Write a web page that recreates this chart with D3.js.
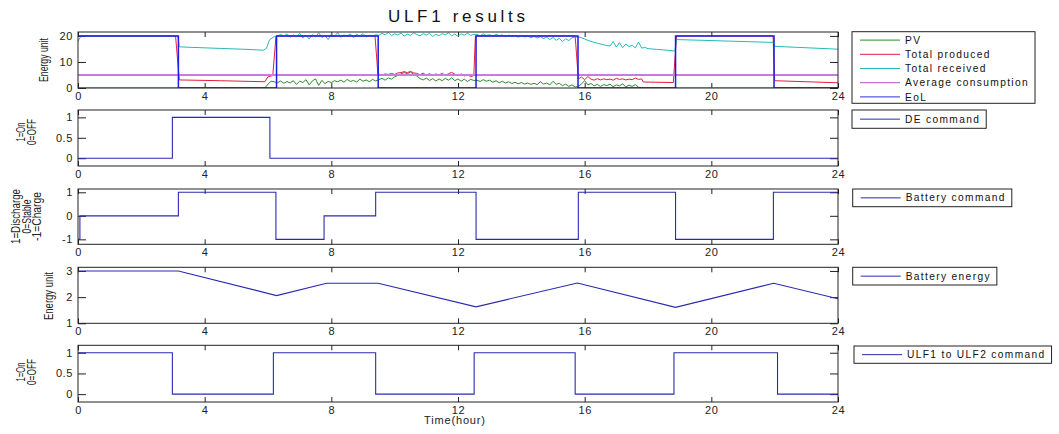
<!DOCTYPE html>
<html>
<head>
<meta charset="utf-8">
<script src="https://cdn.jsdelivr.net/npm/d3@7"></script>
<style>
  body { margin: 0; background: #fff; }
  svg { display: block; font-family: "Liberation Sans", Arial, sans-serif; }
  .tick text { fill: #222; font-size: 11px; letter-spacing: 0.6px; }
  .legend text { fill: #111; font-size: 10.2px; letter-spacing: 1.35px; }
</style>
</head>
<body>
<svg id="chart" width="1059" height="434"></svg>
<script>
// ---- data ----
const hourTicks = [0, 4, 8, 12, 16, 20, 24];

// panel 1: [hour, energy unit]
const pvPoints = [
  [0,0],[5.9,0],[6.0,1.5],[6.1,2.6],
  [6.2,2.4],[6.3,2.0],[6.4,2.7],[6.5,1.8],[6.6,2.5],[6.7,1.9],[6.8,2.8],[6.9,1.4],[7.0,2.6],[7.1,2.1],
  [7.2,3.2],[7.3,1.2],[7.4,2.7],[7.5,3.5],[7.6,1.0],[7.7,2.9],[7.8,1.7],[7.9,2.5],[8.0,2.1],[8.1,2.8],
  [8.2,2.4],[8.3,3.0],[8.4,2.2],[8.5,3.3],[8.6,2.5],[8.7,2.9],[8.8,2.3],[8.9,3.4],[9.0,2.6],[9.1,3.1],
  [9.2,2.4],[9.3,3.3],[9.4,2.7],
  [9.5,3.2],[9.6,3.7],[9.7,3.0],[9.8,3.9],[9.9,3.4],[10.0,4.3],[10.1,4.8],[10.2,5.4],[10.3,5.9],[10.4,5.5],
  [10.5,6.1],[10.6,5.3],[10.7,4.6],[10.8,3.6],[10.9,3.1],[11.0,3.8],[11.1,2.9],[11.2,3.6],[11.3,2.7],
  [11.4,3.5],[11.5,2.8],[11.6,3.7],[11.7,3.0],[11.8,3.9],[11.9,2.8],[12.0,3.5],[12.1,2.6],[12.2,3.4],
  [12.3,2.5],[12.4,3.3],[12.5,2.9],
  [12.6,3.0],[12.7,2.5],[12.8,3.2],[12.9,2.6],[13.0,3.0],[13.1,2.2],[13.2,2.8],[13.3,2.0],[13.4,2.6],
  [13.5,1.9],[13.6,2.4],[13.7,1.7],[13.8,2.2],[13.9,1.6],[14.0,2.1],[14.1,1.5],[14.2,1.9],[14.3,1.4],
  [14.4,1.8],[14.5,1.3],[14.6,2.4],[14.7,1.5],[14.8,1.9],[14.9,1.2],[15.0,2.6],[15.1,1.4],[15.2,1.8],
  [15.3,0.9],[15.4,1.5],[15.5,0.6],[15.6,1.2],[15.7,0.4],
  [15.8,0.5],[15.9,1.6],[16.0,2.8],[16.1,1.2],[16.2,1.7],[16.3,0.8],[16.4,1.4],[16.5,0.6],[16.6,1.3],
  [16.7,0.9],[16.8,1.5],[16.9,0.5],[17.0,1.2],[17.1,0.8],[17.2,1.6],[17.3,0.4],[17.4,1.1],[17.5,0.6],
  [17.6,1.3],[17.7,0.3],[17.8,0.1],[17.9,0],[24,0]
];
const producedPoints = [
  [0,20],[3.08,20],[3.2,3.1],[4.5,2.8],[5.9,2.4],[6.0,4.3],[6.15,4.8],[6.25,19.5],[6.3,20],[9.38,20],
  [9.47,5.3],[9.5,5.3],[9.6,5.0],[9.7,5.4],[9.8,5.2],[9.9,5.6],[10.0,5.2],[10.1,5.8],[10.2,5.9],[10.3,6.3],
  [10.4,5.9],[10.5,6.4],[10.6,5.8],[10.7,5.6],[10.8,5.1],[10.9,5.7],[11.0,4.9],[11.1,5.5],[11.2,4.8],
  [11.3,5.4],[11.4,5.0],[11.5,5.6],[11.6,4.8],[11.7,5.5],[11.8,6.0],[11.9,5.3],[12.0,4.7],[12.1,5.4],
  [12.2,4.6],[12.3,5.2],[12.4,4.3],[12.5,4.8],[12.55,20],[15.7,20],
  [15.8,3.5],[15.9,4.2],[16.0,3.2],[16.1,4.4],[16.2,3.4],[16.3,3.0],[16.4,3.6],[16.5,3.1],[16.6,3.5],
  [16.7,3.2],[16.8,3.4],[16.9,3.0],[17.0,3.7],[17.1,3.3],[17.2,3.5],[17.3,3.1],[17.4,3.4],[17.5,3.2],
  [17.6,3.8],[17.7,3.3],[17.8,3.5],[17.85,2.3],[18.8,2.1],[18.9,20],[21.95,20],[22.0,2.8],[24,2.0]
];
const receivedPoints = [
  [0,18],[0.1,20],[3.15,20],[3.2,15.8],[3.6,15.6],[4.5,15.2],[5.4,14.8],[5.85,14.5],[5.95,15.2],
  [6.05,18.5],[6.2,19.8],
  [6.3,19.8],[6.4,20.6],[6.5,19.9],[6.6,20.8],[6.7,19.5],[6.8,20.4],[6.9,19.7],[7.0,21.0],[7.1,19.2],
  [7.2,20.3],[7.3,18.8],[7.4,20.5],[7.5,19.6],[7.6,21.2],[7.7,19.4],[7.8,20.1],[7.9,18.6],[8.0,20.7],
  [8.1,19.8],[8.2,21.3],[8.3,19.5],[8.4,20.4],[8.5,19.9],[8.6,20.8],[8.7,19.3],[8.8,20.6],[8.9,20.0],
  [9.0,20.9],[9.1,19.6],[9.2,20.3],[9.3,19.9],[9.4,20.5],
  [9.5,20.2],[9.6,21.0],[9.7,20.4],[9.8,21.3],[9.9,20.1],[10.0,20.8],[10.1,20.3],[10.2,21.1],[10.3,19.9],
  [10.4,20.7],[10.5,20.2],[10.6,21.2],[10.7,20.5],[10.8,20.0],[10.9,20.9],[11.0,20.3],[11.1,21.0],
  [11.2,19.8],[11.3,20.6],[11.4,20.1],[11.5,20.9],[11.6,20.4],[11.7,21.2],[11.8,20.0],[11.9,20.7],
  [12.0,19.9],[12.1,20.8],[12.2,20.3],[12.3,21.0],[12.4,20.2],[12.5,20.6],
  [12.6,20.6],[12.7,20.0],[12.8,20.8],[12.9,20.2],[13.0,20.5],[13.1,19.8],[13.2,20.6],[13.3,20.1],
  [13.4,20.4],[13.5,19.7],[13.6,20.3],[13.7,19.9],[13.8,20.2],[13.9,19.5],[14.0,20.1],[14.1,19.6],
  [14.2,19.9],[14.3,19.3],[14.4,19.8],[14.5,19.2],[14.6,19.7],[14.7,19.0],[14.8,19.5],[14.9,18.6],
  [15.0,19.4],[15.1,18.3],[15.2,19.1],[15.3,17.8],[15.4,18.9],[15.5,18.2],[15.6,19.3],[15.7,19.5],
  [15.8,19.6],[15.9,19.3],[16.0,18.8],[16.1,18.3],[16.2,17.9],[16.3,17.5],[16.4,17.2],[16.5,16.9],
  [16.6,16.6],[16.7,16.3],[16.8,16.1],[16.9,17.9],[17.0,15.7],[17.1,17.4],[17.2,15.5],[17.3,16.9],
  [17.4,15.9],[17.5,16.4],[17.6,15.4],[17.7,17.6],[17.8,15.3],[17.9,15.6],[18.0,15.1],[18.3,14.8],
  [18.6,14.5],[18.85,14.2],[18.9,18.6],[21.95,17.5],[22.0,16.0],[24,14.9]
];
const avgConsumptionPoints = [[0,5],[24,5]];
const eolTimes  = [0, 3.17, 6.27, 9.48, 12.57, 15.79, 18.87, 21.98, 24];
const eolValues = [20, 0, 20, 0, 20, 0, 20, 0, 0];

// panel 2
const deTimes  = [0, 2.98, 6.06, 24];
const deValues = [0, 1, 0, 0];
// panel 3
const batCmdTimes  = [0, 0.06, 3.17, 6.25, 7.77, 9.4, 12.57, 15.8, 18.87, 21.96, 24];
const batCmdValues = [-1, 0, 1, -1, 0, 1, -1, 1, -1, 1, 1];
// panel 4
const batEnergyTimes  = [0, 3.17, 6.27, 7.85, 9.48, 12.57, 15.77, 18.87, 21.97, 24];
const batEnergyValues = [3, 3, 2.06, 2.53, 2.53, 1.63, 2.54, 1.61, 2.53, 1.94];
// panel 5
const ulfTimes  = [0, 2.98, 6.17, 9.4, 12.51, 15.7, 18.82, 22.09, 24];
const ulfValues = [1, 0, 1, 0, 1, 0, 1, 0, 0];

const legend1Labels = ["PV", "Total produced", "Total received", "Average consumption", "EoL"];

// ---- drawing ----
const navy = "#2a2ab0";
const svg = d3.select("#chart");
svg.append("rect").attr("width", 1059).attr("height", 434).attr("fill", "#fff");

const x = d3.scaleLinear().domain([0, 24]).range([78, 838]);

const panels = [
  {
    top: 32, bottom: 88, domain: [0, 21.5], ticks: [0, 10, 20],
    labels: [{ text: "Energy unit", x: 48, len: 44 }], labelY: 60,
    series: [
      { pts: pvPoints, color: "#2b8a2b", w: 1 },
      { pts: producedPoints, color: "#e31e3e", w: 1 },
      { pts: receivedPoints, color: "#22bcbc", w: 1 },
      { pts: avgConsumptionPoints, color: "#c67fd8", w: 2 },
      { pts: d3.zip(eolTimes, eolValues), color: "#1c1ce6", w: 1.5, step: true }
    ],
    legend: { left: 852, top: 31.7, h: 71.6,
      items: legend1Labels.map((l, i) => ({ label: l, color: ["#2b8a2b", "#e31e3e", "#22bcbc", "#b050c8", "#3030e0"][i] })) }
  },
  {
    top: 110, bottom: 166, domain: [-0.19, 1.18], ticks: [0, 0.5, 1],
    labels: [{ text: "1=On", x: 25, len: 19 }, { text: "0=OFF", x: 36, len: 26 }], labelY: 132,
    series: [{ pts: d3.zip(deTimes, deValues), color: navy, w: 1.1, step: true }],
    legend: { left: 852, top: 110, h: 18.3, items: [{ label: "DE command", color: navy }] }
  },
  {
    top: 189, bottom: 244.3, domain: [-1.21, 1.14], ticks: [-1, 0, 1],
    labels: [{ text: "1=Discharge", x: 20, len: 55 }, { text: "0=Stable", x: 30.5, len: 34 },
             { text: "-1=Charge", x: 41, len: 49 }], labelY: 216.5,
    series: [{ pts: d3.zip(batCmdTimes, batCmdValues), color: navy, w: 1.1, step: true }],
    legend: { left: 852.7, top: 189, h: 17.7, items: [{ label: "Battery command", color: navy }] }
  },
  {
    top: 267.3, bottom: 323.3, domain: [1, 3.14], ticks: [1, 2, 3],
    labels: [{ text: "Energy unit", x: 53, len: 48 }], labelY: 296,
    series: [{ pts: d3.zip(batEnergyTimes, batEnergyValues), color: navy, w: 1.1 }],
    legend: { left: 852.7, top: 267.3, h: 17.7, items: [{ label: "Battery energy", color: navy }] }
  },
  {
    top: 345.3, bottom: 402, domain: [-0.19, 1.18], ticks: [0, 0.5, 1],
    labels: [{ text: "1=On", x: 25, len: 19 }, { text: "0=OFF", x: 36, len: 26 }], labelY: 372,
    series: [{ pts: d3.zip(ulfTimes, ulfValues), color: navy, w: 1.1, step: true }],
    legend: { left: 854, top: 346, h: 17.3, items: [{ label: "ULF1 to ULF2 command", color: navy }] }
  }
];

panels.forEach((p, pi) => {
  const y = d3.scaleLinear().domain(p.domain).range([p.bottom, p.top]);
  const g = svg.append("g");

  const clipId = "clip" + pi;
  svg.append("clipPath").attr("id", clipId)
    .append("rect").attr("x", x(0)).attr("y", p.top)
    .attr("width", x(24) - x(0)).attr("height", p.bottom - p.top);

  // axes, MATLAB style: ticks inward on all four sides
  g.append("g").attr("transform", `translate(0,${p.bottom})`)
    .call(d3.axisBottom(x).tickValues(hourTicks).tickSize(-5).tickSizeOuter(0).tickPadding(4).tickFormat(d => String(d)));
  g.append("g").attr("transform", `translate(0,${p.top})`)
    .call(d3.axisTop(x).tickValues(hourTicks).tickSize(-5).tickSizeOuter(0).tickFormat(""));
  g.append("g").attr("transform", `translate(${x(0)},0)`)
    .call(d3.axisLeft(y).tickValues(p.ticks).tickSize(-8).tickSizeOuter(0).tickPadding(5).tickFormat(d => String(d)));
  g.append("g").attr("transform", `translate(${x(24)},0)`)
    .call(d3.axisRight(y).tickValues(p.ticks).tickSize(-8).tickSizeOuter(0).tickFormat(""));
  g.selectAll(".domain").remove();
  g.selectAll(".tick line").attr("stroke", "#222");

  // lines
  const plot = g.append("g").attr("clip-path", `url(#${clipId})`);
  p.series.forEach(s => {
    const line = d3.line().x(d => x(d[0])).y(d => y(d[1]))
      .curve(s.step ? d3.curveStepAfter : d3.curveLinear);
    plot.append("path").datum(s.pts)
      .attr("fill", "none").attr("stroke", s.color).attr("stroke-width", s.w)
      .attr("d", line);
  });

  // box
  g.append("rect").attr("x", x(0)).attr("y", p.top)
    .attr("width", x(24) - x(0)).attr("height", p.bottom - p.top)
    .attr("fill", "none").attr("stroke", "#222").attr("stroke-width", 1);

  // y labels (rotated, narrow font)
  p.labels.forEach(l => {
    g.append("text")
      .attr("transform", `translate(${l.x},${p.labelY}) rotate(-90)`)
      .attr("text-anchor", "middle")
      .attr("font-size", 12).attr("fill", "#222")
      .attr("textLength", l.len).attr("lengthAdjust", "spacingAndGlyphs")
      .text(l.text);
  });

  // legend
  const lg = svg.append("g").attr("class", "legend");
  const box = lg.append("rect").attr("x", p.legend.left).attr("y", p.legend.top)
    .attr("height", p.legend.h).attr("fill", "#fff").attr("stroke", "#222").attr("stroke-width", 1);
  let maxRight = 0;
  p.legend.items.forEach((it, i) => {
    const cy = p.legend.top + (p.legend.items.length > 1 ? 8.4 + i * 14.2 : p.legend.h / 2);
    lg.append("line")
      .attr("x1", p.legend.left + 8).attr("x2", p.legend.left + 48)
      .attr("y1", cy).attr("y2", cy)
      .attr("stroke", it.color).attr("stroke-width", 1);
    const t = lg.append("text").attr("x", p.legend.left + 53).attr("y", cy + 3.6).text(it.label);
    maxRight = Math.max(maxRight, p.legend.left + 53 + t.node().getComputedTextLength());
  });
  box.attr("width", Math.min(maxRight + 6, 1058) - p.legend.left);
});

// title and x label
svg.append("text").attr("x", 456.5).attr("y", 21.7).attr("text-anchor", "middle")
  .attr("font-size", 17).attr("fill", "#111")
  .attr("textLength", 137).attr("lengthAdjust", "spacing")
  .text("ULF1 results");
svg.append("text").attr("x", 454.5).attr("y", 424).attr("text-anchor", "middle")
  .attr("font-size", 11).attr("fill", "#222")
  .attr("textLength", 61).attr("lengthAdjust", "spacing")
  .text("Time(hour)");
</script>
</body>
</html>
